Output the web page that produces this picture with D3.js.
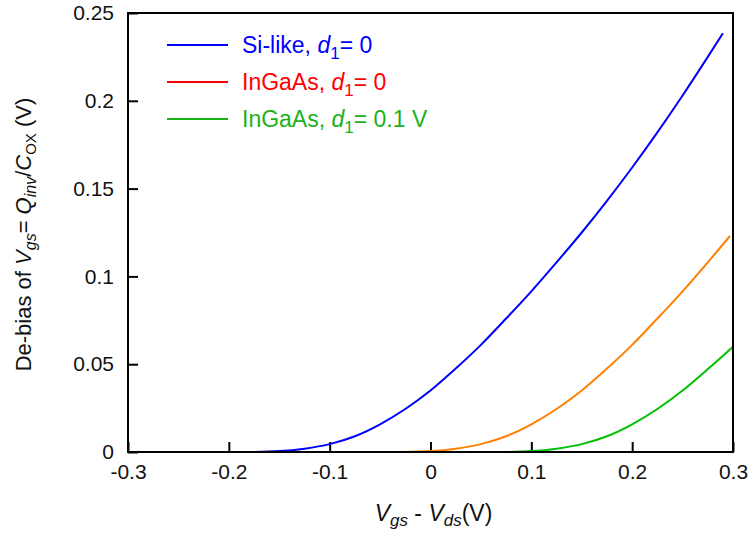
<!DOCTYPE html>
<html>
<head>
<meta charset="utf-8">
<script src="https://cdn.jsdelivr.net/npm/d3@7/dist/d3.min.js"></script>
<style>
  body { margin: 0; background: #fff; }
  svg { font-family: 'Liberation Sans', Arial, sans-serif; }
</style>
</head>
<body>
<div id="chart"></div>
<script>
// curves, [Vgs - Vds, de-bias]
const siLike = [
  [-0.178, 0], [-0.15, 0.0005], [-0.125, 0.0019], [-0.1, 0.0045], [-0.075, 0.009],
  [-0.05, 0.0158], [-0.025, 0.0245], [0, 0.035], [0.025, 0.0475], [0.05, 0.061],
  [0.075, 0.076], [0.1, 0.0915], [0.125, 0.108], [0.15, 0.125], [0.175, 0.143],
  [0.2, 0.162], [0.225, 0.182], [0.25, 0.203], [0.275, 0.225], [0.29, 0.2385]
];
const inGaAs0 = [
  [-0.028, 0], [0, 0.0005], [0.025, 0.0019], [0.05, 0.0045], [0.075, 0.009],
  [0.1, 0.0158], [0.125, 0.0245], [0.15, 0.035], [0.175, 0.0475], [0.2, 0.061],
  [0.225, 0.076], [0.25, 0.0915], [0.275, 0.108], [0.297, 0.123]
];
const inGaAs01 = [
  [0.072, 0], [0.1, 0.0005], [0.125, 0.0019], [0.15, 0.0045], [0.175, 0.009],
  [0.2, 0.0158], [0.225, 0.0245], [0.25, 0.035], [0.275, 0.0472], [0.3, 0.060]
];
const xTicks = [-0.3, -0.2, -0.1, 0, 0.1, 0.2, 0.3];
const yTicks = [0, 0.05, 0.1, 0.15, 0.2, 0.25];
const legendNames = ['Si-like, ', 'InGaAs, ', 'InGaAs, '];
const legendTails = ['0', '0', '0.1 V'];

const margin = { top: 13, right: 19, bottom: 81, left: 128 };
const width = 752 - margin.left - margin.right;
const height = 533 - margin.top - margin.bottom;

const svg = d3.select('#chart').append('svg')
  .attr('width', 752)
  .attr('height', 533);

const g = svg.append('g')
  .attr('transform', 'translate(' + margin.left + ',' + margin.top + ')');

const x = d3.scaleLinear().domain([-0.3, 0.3]).range([0, width]);
const y = d3.scaleLinear().domain([0, 0.25]).range([height, 0]);

// plain hyphen for negatives, like the original
const fmt = d => String(+d.toFixed(2));

const xAxis = d3.axisBottom(x)
  .tickValues(xTicks)
  .tickFormat(fmt)
  .tickSizeInner(-10)
  .tickSizeOuter(0)
  .tickPadding(12);

const yAxis = d3.axisLeft(y)
  .tickValues(yTicks)
  .tickFormat(fmt)
  .tickSizeInner(-10)
  .tickSizeOuter(0)
  .tickPadding(14);

g.append('g')
  .attr('transform', 'translate(0,' + height + ')')
  .call(xAxis);

g.append('g')
  .call(yAxis);

g.selectAll('.domain').remove();
g.selectAll('.tick line').attr('stroke', '#000').attr('stroke-width', 2);
g.selectAll('.tick text')
  .attr('fill', '#111')
  .style('font-size', '21px');

// curves
const line = d3.line()
  .x(d => x(d[0]))
  .y(d => y(d[1]))
  .curve(d3.curveMonotoneX);

const curves = [
  { data: siLike, color: '#0000ff' },
  { data: inGaAs0, color: '#ff8000' },
  { data: inGaAs01, color: '#00c000' }
];

g.selectAll('.curve')
  .data(curves)
  .enter().append('path')
  .attr('class', 'curve')
  .attr('d', d => line(d.data))
  .attr('fill', 'none')
  .attr('stroke', d => d.color)
  .attr('stroke-width', 2);

// frame
g.append('rect')
  .attr('width', width)
  .attr('height', height)
  .attr('fill', 'none')
  .attr('stroke', '#000')
  .attr('stroke-width', 2);

// legend (second entry is red in the key even though the curve is orange)
const legendColors = ['#0000ff', '#ff0000', '#19b219'];
const legend = svg.append('g');
legendNames.forEach((name, i) => {
  const ly = 45 + i * 37;
  legend.append('line')
    .attr('x1', 167).attr('x2', 228)
    .attr('y1', ly).attr('y2', ly)
    .attr('stroke', legendColors[i])
    .attr('stroke-width', 2);
  const t = legend.append('text')
    .attr('x', 242)
    .attr('y', ly + 8)
    .attr('fill', legendColors[i])
    .style('font-size', '23px');
  t.append('tspan').text(name);
  t.append('tspan').style('font-style', 'italic').text('d');
  t.append('tspan').attr('dy', 6).style('font-size', '17px').text('1');
  t.append('tspan').attr('dy', -6).text('= ' + legendTails[i]);
});

// x title
const xt = svg.append('text')
  .attr('x', margin.left + width / 2 + 3)
  .attr('y', 521)
  .attr('text-anchor', 'middle')
  .attr('fill', '#111')
  .style('font-size', '23px');
xt.append('tspan').style('font-style', 'italic').text('V');
xt.append('tspan').attr('dy', 5).style('font-size', '17px').style('font-style', 'italic').text('gs');
xt.append('tspan').attr('dy', -5).text(' - ');
xt.append('tspan').style('font-style', 'italic').text('V');
xt.append('tspan').attr('dy', 5).style('font-size', '17px').style('font-style', 'italic').text('ds');
xt.append('tspan').attr('dy', -5).text('(V)');

// y title
const yt = svg.append('text')
  .attr('transform', 'translate(31,' + (margin.top + height / 2 + 2) + ') rotate(-90)')
  .attr('text-anchor', 'middle')
  .attr('fill', '#111')
  .style('font-size', '22px');
yt.append('tspan').text('De-bias of ');
yt.append('tspan').style('font-style', 'italic').text('V');
yt.append('tspan').attr('dy', 5).style('font-size', '16px').style('font-style', 'italic').text('gs');
yt.append('tspan').attr('dy', -5).text('= ');
yt.append('tspan').style('font-style', 'italic').text('Q');
yt.append('tspan').attr('dy', 5).style('font-size', '16px').style('font-style', 'italic').text('inv');
yt.append('tspan').attr('dy', -5).text('/');
yt.append('tspan').style('font-style', 'italic').text('C');
yt.append('tspan').attr('dy', 5).style('font-size', '15px').text('OX');
yt.append('tspan').attr('dy', -5).text(' (V)');
</script>
</body>
</html>
